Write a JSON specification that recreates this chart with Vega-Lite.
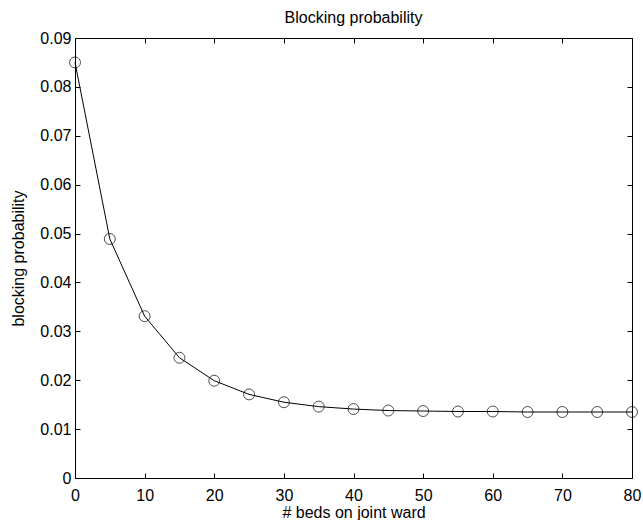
{
  "$schema": "https://vega.github.io/schema/vega-lite/v6.json",
  "width": 557,
  "height": 440,
  "autosize": {"type": "none"},
  "padding": {"left": 75, "top": 38, "right": 11, "bottom": 42},
  "background": "white",
  "config": {
    "font": "Liberation Sans",
    "view": {"stroke": "black", "strokeWidth": 1},
    "axis": {"grid": false, "domain": true, "domainColor": "black", "tickColor": "black", "labelColor": "black", "titleColor": "black", "labelFontSize": 16, "titleFontSize": 16, "titleFontWeight": "normal", "labelFont": "Liberation Sans", "titleFont": "Liberation Sans"}
  },
  "title": {"text": "Blocking probability", "fontSize": 16, "fontWeight": "normal", "font": "Liberation Sans", "color": "black", "offset": 4},
  "data": {"values": [
    {"beds": 0, "p": 0.0850},
    {"beds": 5, "p": 0.0489},
    {"beds": 10, "p": 0.0331},
    {"beds": 15, "p": 0.0246},
    {"beds": 20, "p": 0.0199},
    {"beds": 25, "p": 0.0171},
    {"beds": 30, "p": 0.0155},
    {"beds": 35, "p": 0.0146},
    {"beds": 40, "p": 0.0141},
    {"beds": 45, "p": 0.0138},
    {"beds": 50, "p": 0.0137},
    {"beds": 55, "p": 0.0136},
    {"beds": 60, "p": 0.0136},
    {"beds": 65, "p": 0.0135},
    {"beds": 70, "p": 0.0135},
    {"beds": 75, "p": 0.0135},
    {"beds": 80, "p": 0.0135}
  ]},
  "layer": [
    {
      "mark": {"type": "line", "color": "black", "strokeWidth": 1, "interpolate": "linear"},
      "encoding": {
        "x": {"field": "beds", "type": "quantitative", "scale": {"domain": [0, 80], "nice": false},
              "axis": {"orient": "bottom", "title": "# beds on joint ward", "values": [0,10,20,30,40,50,60,70,80], "tickSize": -5, "labelPadding": 14, "titlePadding": 1, "labelFlush": false}},
        "y": {"field": "p", "type": "quantitative", "scale": {"domain": [0, 0.09], "nice": false, "zero": true},
              "axis": {"orient": "left", "title": "blocking probability", "values": [0,0.01,0.02,0.03,0.04,0.05,0.06,0.07,0.08,0.09], "format": "~g", "tickSize": -5, "labelPadding": 9, "titlePadding": 13, "labelFlush": false}}
      }
    },
    {
      "mark": {"type": "point", "shape": "circle", "filled": false, "color": "black", "strokeWidth": 1, "size": 120},
      "encoding": {
        "x": {"field": "beds", "type": "quantitative", "scale": {"domain": [0, 80], "nice": false},
              "axis": {"orient": "top", "title": null, "labels": false, "values": [0,10,20,30,40,50,60,70,80], "tickSize": -5}},
        "y": {"field": "p", "type": "quantitative", "scale": {"domain": [0, 0.09], "nice": false},
              "axis": {"orient": "right", "title": null, "labels": false, "values": [0,0.01,0.02,0.03,0.04,0.05,0.06,0.07,0.08,0.09], "tickSize": -5}}
      }
    }
  ],
  "resolve": {"axis": {"x": "independent", "y": "independent"}}
}
